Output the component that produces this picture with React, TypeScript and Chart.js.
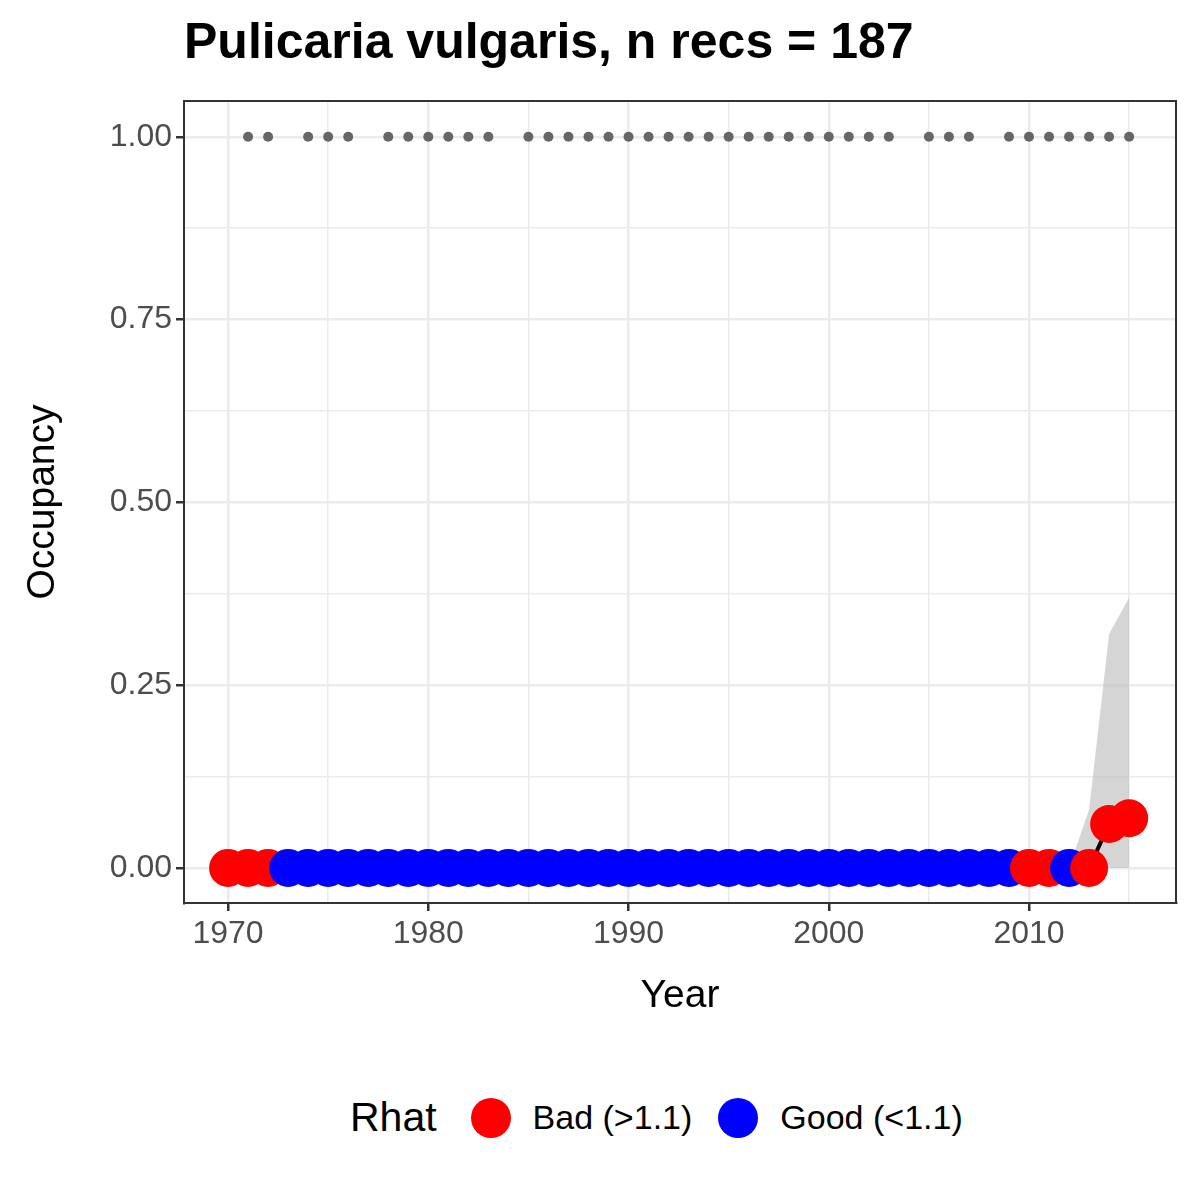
import { useEffect, useRef } from "react"
import { Chart, registerables } from "chart.js"

Chart.register(...registerables)

const years = Array.from({ length: 46 }, (_, i) => 1970 + i)
// estimated occupancy per year
const occupancy = [
  0, 0, 0, 0, 0, 0, 0, 0, 0, 0, 0, 0, 0, 0, 0, 0, 0, 0, 0, 0, 0, 0, 0, 0, 0, 0, 0, 0, 0, 0,
  0, 0, 0, 0, 0, 0, 0, 0, 0, 0, 0, 0, 0, 0, 0.06, 0.068,
]
const upperCI = [
  0, 0, 0, 0, 0, 0, 0, 0, 0, 0, 0, 0, 0, 0, 0, 0, 0, 0, 0, 0, 0, 0, 0, 0, 0, 0, 0, 0, 0, 0,
  0, 0, 0, 0, 0, 0, 0, 0, 0, 0, 0, 0, 0, 0.08, 0.32, 0.37,
]
const lowerCI = years.map(() => 0)
// true = Bad (>1.1)
const rhatBad = years.map((y) => y <= 1972 || y === 2010 || y === 2011 || y >= 2013)
const recordYears = [
  1971, 1972, 1974, 1975, 1976, 1978, 1979, 1980, 1981, 1982, 1983,
  1985, 1986, 1987, 1988, 1989, 1990, 1991, 1992, 1993, 1994, 1995, 1996, 1997, 1998, 1999,
  2000, 2001, 2002, 2003, 2005, 2006, 2007, 2009, 2010, 2011, 2012, 2013, 2014, 2015,
]
const xTicks = [1970, 1975, 1980, 1985, 1990, 1995, 2000, 2005, 2010, 2015]
const yTicks = [0, 0.125, 0.25, 0.375, 0.5, 0.625, 0.75, 0.875, 1]

const FONT = "'Liberation Sans', Arial, sans-serif"
const isMajorX = (v: number) => Math.round(v) % 10 === 0
const isMajorY = (v: number) => Math.abs(v * 4 - Math.round(v * 4)) < 1e-6

export default function App() {
  const ref = useRef<HTMLCanvasElement>(null)

  useEffect(() => {
    if (!ref.current) return
    const chart = new Chart(ref.current, {
      type: "scatter",
      data: {
        datasets: [
          {
            type: "line",
            data: years.map((y, i) => ({ x: y, y: lowerCI[i] })),
            pointRadius: 0,
            borderWidth: 0,
            fill: false,
            order: 5,
          },
          {
            type: "line",
            data: years.map((y, i) => ({ x: y, y: upperCI[i] })),
            pointRadius: 0,
            borderWidth: 0,
            backgroundColor: "rgba(190,190,190,0.65)",
            fill: "-1",
            order: 4,
          },
          {
            type: "line",
            data: years.map((y, i) => ({ x: y, y: occupancy[i] })),
            pointRadius: 0,
            borderColor: "#000",
            borderWidth: 4,
            order: 3,
          },
          {
            data: years.map((y, i) => ({ x: y, y: occupancy[i] })),
            pointRadius: 19,
            pointBorderWidth: 0,
            pointBackgroundColor: rhatBad.map((b) => (b ? "#ff0000" : "#0000ff")),
            order: 1,
          },
          {
            data: recordYears.map((y) => ({ x: y, y: 1 })),
            pointRadius: 5,
            pointBorderWidth: 0,
            pointBackgroundColor: "#666666",
            order: 0,
          },
        ],
      },
      options: {
        animation: false,
        responsive: false,
        layout: { padding: { top: 101, right: 24, left: 0, bottom: 0 } },
        plugins: { legend: { display: false }, tooltip: { enabled: false } },
        scales: {
          x: {
            type: "linear",
            min: 1967.8,
            max: 2017.34,
            afterFit: (s: any) => { s.height = 137 },
            afterBuildTicks: (s: any) => { s.ticks = xTicks.map((v) => ({ value: v })) },
            ticks: {
              color: "#4d4d4d",
              font: { family: FONT, size: 32 },
              padding: 4,
              autoSkip: false,
              maxRotation: 0,
              callback: (v: any) => (isMajorX(v) ? String(v) : ""),
            },
            grid: {
              color: "#ebebeb",
              lineWidth: (c: any) => (c.tick && isMajorX(c.tick.value) ? 2.5 : 1.5),
              tickLength: 8,
              tickColor: (c: any) => (c.tick && isMajorX(c.tick.value) ? "#333" : "rgba(0,0,0,0)"),
            },
            border: { color: "#333", width: 2 },
            title: {
              display: true,
              text: "Year",
              color: "#000",
              font: { family: FONT, size: 39 },
              padding: { top: 0, bottom: 20 },
            },
          },
          y: {
            min: -0.048,
            max: 1.049,
            afterFit: (s: any) => { s.width = 184 },
            afterBuildTicks: (s: any) => { s.ticks = yTicks.map((v) => ({ value: v })) },
            ticks: {
              color: "#4d4d4d",
              font: { family: FONT, size: 32 },
              padding: 4,
              autoSkip: false,
              callback: (v: any) => (isMajorY(v) ? Number(v).toFixed(2) : ""),
            },
            grid: {
              color: "#ebebeb",
              lineWidth: (c: any) => (c.tick && isMajorY(c.tick.value) ? 2.5 : 1.5),
              tickLength: 8,
              tickColor: (c: any) => (c.tick && isMajorY(c.tick.value) ? "#333" : "rgba(0,0,0,0)"),
            },
            border: { color: "#333", width: 2 },
            title: {
              display: true,
              text: "Occupancy",
              color: "#000",
              font: { family: FONT, size: 39 },
              padding: { top: 20, bottom: 0 },
            },
          },
        },
      },
      plugins: [
        {
          id: "frame",
          afterDraw: (c: any) => {
            const { left, right, top, bottom } = c.chartArea
            const ctx = c.ctx
            ctx.save()
            ctx.strokeStyle = "#333"
            ctx.lineWidth = 2
            ctx.strokeRect(left, top, right - left, bottom - top)
            ctx.restore()
          },
        },
      ],
    })
    return () => chart.destroy()
  }, [])

  const dot = (c: string) => (
    <span style={{ display: "inline-block", width: 40, height: 40, borderRadius: 20, background: c, margin: "0 22px 0 0" }} />
  )

  return (
    <div style={{ position: "relative", width: 1200, height: 1200, margin: -8, background: "#fff", fontFamily: FONT }}>
      <div style={{ position: "absolute", left: 184, top: 12, fontSize: 50, fontWeight: "bold", color: "#000" }}>
        Pulicaria vulgaris, n recs = 187
      </div>
      <canvas ref={ref} width={1200} height={1040} style={{ position: "absolute", left: 0, top: 0 }} />
      <div style={{ position: "absolute", left: 350, top: 1094, display: "flex", alignItems: "center", color: "#000" }}>
        <span style={{ fontSize: 41, marginRight: 34 }}>Rhat</span>
        {dot("#ff0000")}
        <span style={{ fontSize: 34, marginRight: 26 }}>Bad (&gt;1.1)</span>
        {dot("#0000ff")}
        <span style={{ fontSize: 34 }}>Good (&lt;1.1)</span>
      </div>
    </div>
  )
}
